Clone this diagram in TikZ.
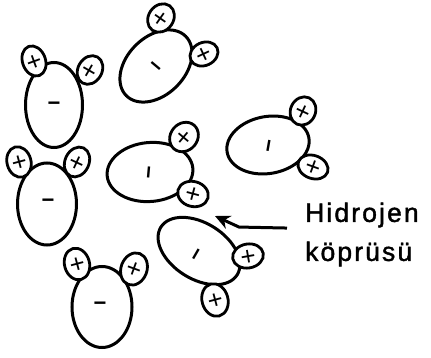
\documentclass[tikz,border=0pt]{standalone}
\usepackage{fontspec}
\setmainfont{Liberation Sans}
\newfontfamily\lblfont{Liberation Sans}[LetterSpace=8, FakeBold=1.5]
\usepackage{tikz}
\usetikzlibrary{
  shapes.geometric,
  arrows.meta
}
\tikzset{
  oxy/.style = {
    ellipse, draw, line width=3pt,
    fill=white, inner sep=0pt
  },
  hyd/.style = {
    ellipse, draw, line width=2.8pt,
    fill=white, inner sep=-2pt,
    font=\fontsize{26}{26}\selectfont,
    text height=18.2pt, text depth=0pt
  },
  neg/.style = {
    inner sep=0pt, font=\fontsize{22}{22}\selectfont\bfseries,
    text height=11.9pt, text depth=0pt
  },
  arr/.style = {-{Stealth[length=15pt, width=14pt]}, line width=3pt},
  lbl/.style = {
    inner sep=0pt, align=left,
    font=\lblfont\fontsize{26.5}{39}\selectfont
  },
}

\begin{document}
\begin{tikzpicture}[x=1pt, y=-1pt]
  \useasboundingbox (0,0) rectangle (431,358);

  %% molecule 1
  \node[oxy, minimum width=57pt, minimum height=85pt] (o1) at (54,105) {};
  \node[neg] (n1) at (o1) {−};
  \node[hyd, minimum width=23pt, minimum height=31pt, rotate=20]  (h1a) at (34,61) {+};
  \node[hyd, minimum width=24pt, minimum height=30pt, rotate=-30] (h1b) at (90,70) {+};

  %% molecule 2
  \node[oxy, minimum width=84pt, minimum height=58pt, rotate=45] (o2) at (156,66) {};
  \node[neg, rotate=-40] (n2) at (155,67) {−};
  \node[hyd, minimum width=25pt, minimum height=30pt, rotate=-35] (h2a) at (161,18) {+};
  \node[hyd, minimum width=29pt, minimum height=23pt, rotate=25]  (h2b) at (204,54) {+};

  %% molecule 3
  \node[oxy, minimum width=83pt, minimum height=57pt, rotate=10] (o3) at (268,145) {};
  \node[neg, rotate=80] (n3) at (270,146) {−};
  \node[hyd, minimum width=25pt, minimum height=29pt, rotate=-25] (h3a) at (303,111) {+};
  \node[hyd, minimum width=31pt, minimum height=23pt, rotate=-20] (h3b) at (313,167) {+};

  %% molecule 4
  \node[oxy, minimum width=59pt, minimum height=82pt] (o4) at (47,204) {};
  \node[neg] (n4) at (48,202) {−};
  \node[hyd, minimum width=24pt, minimum height=31pt, rotate=15]  (h4a) at (19,162) {+};
  \node[hyd, minimum width=24pt, minimum height=31pt, rotate=-25] (h4b) at (77,162) {+};

  %% molecule 5
  \node[oxy, minimum width=86pt, minimum height=59pt, rotate=5] (o5) at (150,172) {};
  \node[neg, rotate=85] (n5) at (150,173) {−};
  \node[hyd, minimum width=27pt, minimum height=31pt, rotate=-40] (h5a) at (184,137) {+};
  \node[hyd, minimum width=31pt, minimum height=25pt, rotate=-15] (h5b) at (193,194) {+};

  %% molecule 6
  \node[oxy, minimum width=90pt, minimum height=56pt, rotate=-32] (o6) at (199,251) {};
  \node[neg, rotate=60] (n6) at (198,255) {−};
  \node[hyd, minimum width=31pt, minimum height=24pt, rotate=10] (h6a) at (248,256) {+};
  \node[hyd, minimum width=26pt, minimum height=33pt, rotate=15] (h6b) at (215,300) {+};

  %% molecule 7
  \node[oxy, minimum width=60pt, minimum height=81pt] (o7) at (102,307) {};
  \node[neg] (n7) at (100,305) {−};
  \node[hyd, minimum width=25pt, minimum height=32pt, rotate=15]  (h7a) at (77,264) {+};
  \node[hyd, minimum width=26pt, minimum height=33pt, rotate=-20] (h7b) at (134,269) {+};

  %% label and arrow
  \node[lbl, anchor=north west] (lbl) at (305,202.5) {Hidrojen\\köprüsü};
  \coordinate (tip) at (215,216);
  \draw[arr] ([shift={(-18,-6.5)}]lbl.west) -- ++(-48,-1) -- (tip);

\end{tikzpicture}
\end{document}
